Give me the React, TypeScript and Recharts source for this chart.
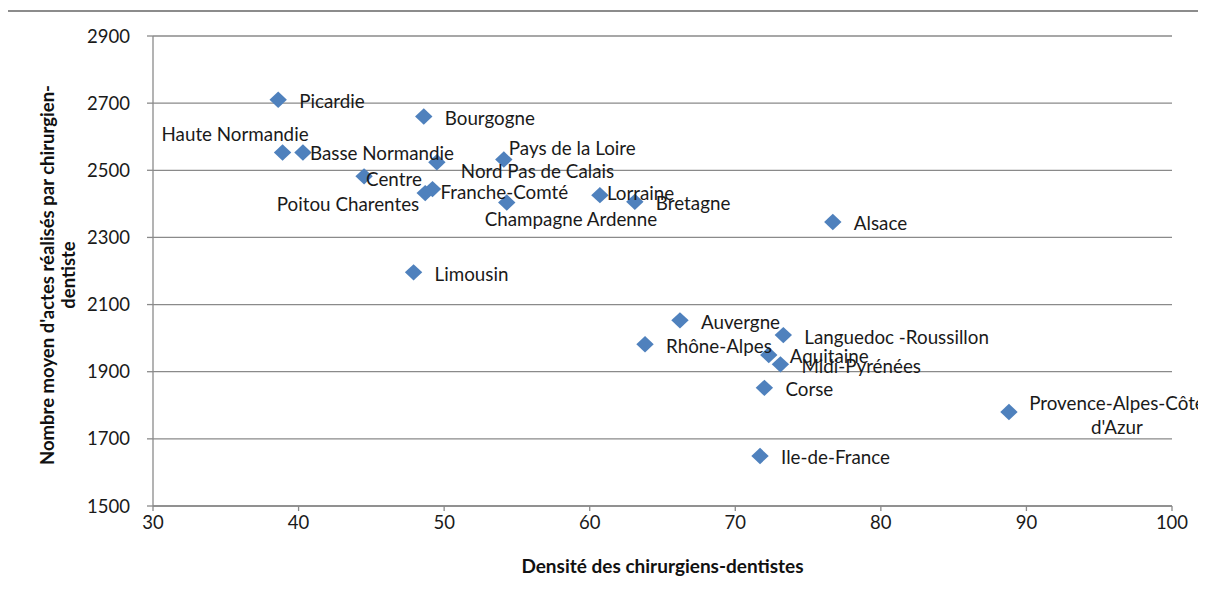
import React from "react";
import {
  ScatterChart,
  Scatter,
  XAxis,
  YAxis,
  CartesianGrid,
} from "recharts";

// régions et valeurs
const regions = [
  "Picardie",
  "Bourgogne",
  "Haute Normandie",
  "Basse Normandie",
  "Nord Pas de Calais",
  "Pays de la Loire",
  "Centre",
  "Poitou Charentes",
  "Franche-Comté",
  "Champagne Ardenne",
  "Lorraine",
  "Bretagne",
  "Alsace",
  "Limousin",
  "Auvergne",
  "Rhône-Alpes",
  "Languedoc -Roussillon",
  "Aquitaine",
  "Midi-Pyrénées",
  "Corse",
  "Provence-Alpes-Côte d'Azur",
  "Ile-de-France",
];

const densite = [
  38.6, 48.6, 38.9, 40.3, 49.5, 54.1, 44.5, 48.7, 49.2, 54.3, 60.7, 63.1, 76.7,
  47.9, 66.2, 63.8, 73.3, 72.3, 73.1, 72.0, 88.8, 71.7,
];

const actes = [
  2710, 2660, 2553, 2553, 2524, 2532, 2482, 2432, 2444, 2404, 2426, 2406, 2346,
  2196, 2053, 1982, 2009, 1950, 1922, 1852, 1780, 1649,
];

const xTicks = [30, 40, 50, 60, 70, 80, 90, 100];
const yTicks = [1500, 1700, 1900, 2100, 2300, 2500, 2700, 2900];

const data = regions.map((name, i) => ({ name, x: densite[i], y: actes[i] }));

// placement des étiquettes (décalage par rapport au point)
type Placement = { dx: number; dy: number; anchor?: "start" | "end" | "middle"; wrap?: boolean };
const defaultPlacement: Placement = { dx: 21, dy: 1 };
const placements: Record<string, Placement> = {
  "Haute Normandie": { dx: -121, dy: -19 },
  "Basse Normandie": { dx: 7, dy: 0 },
  "Nord Pas de Calais": { dx: 24, dy: 8 },
  "Pays de la Loire": { dx: 5, dy: -12 },
  Centre: { dx: 2, dy: 2 },
  "Poitou Charentes": { dx: -6, dy: 10, anchor: "end" },
  "Franche-Comté": { dx: 8, dy: 2 },
  "Champagne Ardenne": { dx: -22, dy: 16 },
  Lorraine: { dx: 7, dy: -3 },
  "Provence-Alpes-Côte d'Azur": { dx: 108, dy: 0, anchor: "middle", wrap: true },
};

const FONT = "Lato, 'Open Sans', sans-serif";
const GRID = "#8a8a8a";
const BLUE = "#4F81BD";
const FRAME = "#8c8c8c";

const Diamond = (props: any) => {
  const { cx, cy } = props;
  if (cx == null || cy == null) return null;
  const w = 8.7;
  const h = 8.2;
  return (
    <path
      d={`M${cx},${cy - h}L${cx + w},${cy}L${cx},${cy + h}L${cx - w},${cy}Z`}
      fill={BLUE}
    />
  );
};

const PointLabel = (props: any) => {
  const { cx, cy, payload } = props;
  if (cx == null || cy == null || !payload) return null;
  const name: string = payload.name;
  const p = placements[name] || defaultPlacement;
  const x = cx + p.dx;
  const y = cy + p.dy;
  const common = {
    fontFamily: FONT,
    fontSize: 18.8,
    fill: "#1a1a1a",
    textAnchor: p.anchor || "start",
  } as const;
  if (p.wrap) {
    const cut = name.lastIndexOf(" ");
    return (
      <text {...common} x={x} y={y} dominantBaseline="central">
        <tspan x={x} dy={-10}>{name.slice(0, cut)}</tspan>
        <tspan x={x} dy={24}>{name.slice(cut + 1)}</tspan>
      </text>
    );
  }
  return (
    <text {...common} x={x} y={y} dominantBaseline="central">
      {name}
    </text>
  );
};

const YTitle = (props: any) => {
  const vb = props.viewBox || {};
  const cy = vb.y + vb.height / 2 + 4;
  const style = { fontFamily: FONT, fontSize: 18.5, fontWeight: 700, fill: "#111" };
  return (
    <g>
      <text
        x={39}
        y={cy}
        transform={`rotate(-90, 39, ${cy})`}
        textAnchor="middle"
        dominantBaseline="central"
        {...style}
      >
        Nombre moyen d'actes réalisés par chirurgien-
      </text>
      <text
        x={60}
        y={cy}
        transform={`rotate(-90, 60, ${cy})`}
        textAnchor="middle"
        dominantBaseline="central"
        {...style}
      >
        dentiste
      </text>
    </g>
  );
};

const XTitle = (props: any) => {
  const vb = props.viewBox || {};
  const cx = vb.x + vb.width / 2;
  return (
    <text
      x={cx}
      y={557}
      textAnchor="middle"
      dominantBaseline="central"
      fontFamily={FONT}
      fontSize={19}
      fontWeight={700}
      fill="#111"
    >
      Densité des chirurgiens-dentistes
    </text>
  );
};

export default function App() {
  return (
    // le cadre : bords haut et gauche, le reste sort de l'image
    <div
      style={{
        position: "relative",
        width: 1192,
        height: 578,
        marginLeft: -2,
        marginTop: 2,
        borderTop: `2px solid ${FRAME}`,
        borderLeft: `2px solid ${FRAME}`,
        boxSizing: "border-box",
      }}
    >
      <div style={{ position: "absolute", left: 0, top: -4 }}>
        <ScatterChart
          width={1198}
          height={580}
          margin={{ top: 28, right: 34, bottom: 52, left: 0 }}
        >
          <CartesianGrid vertical={false} stroke={GRID} strokeWidth={1.3} />
          <XAxis
            type="number"
            dataKey="x"
            domain={[30, 100]}
            ticks={xTicks}
            interval={0}
            height={30}
            stroke={GRID}
            strokeWidth={1.3}
            tickSize={5}
            tickMargin={5}
            tick={{ fill: "#1a1a1a", fontSize: 18.5, fontFamily: FONT }}
            label={{ content: XTitle }}
          />
          <YAxis
            type="number"
            dataKey="y"
            domain={[1500, 2900]}
            ticks={yTicks}
            interval={0}
            width={145}
            stroke={GRID}
            strokeWidth={1.3}
            tickSize={6}
            tickMargin={17}
            tick={{ fill: "#1a1a1a", fontSize: 18.5, fontFamily: FONT }}
            label={{ content: YTitle }}
          />
          <Scatter data={data} shape={Diamond} isAnimationActive={false} />
          <Scatter data={data} shape={PointLabel} isAnimationActive={false} />
        </ScatterChart>
      </div>
    </div>
  );
}
